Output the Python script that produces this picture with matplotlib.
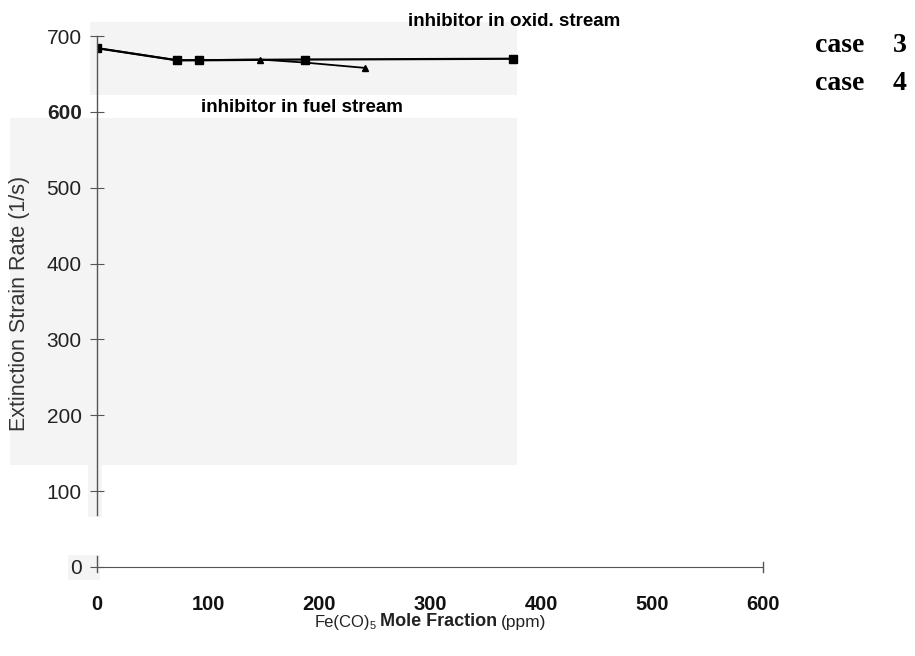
import matplotlib
matplotlib.use("Agg")
import matplotlib.pyplot as plt
from matplotlib.patches import Rectangle

# data
oxid_x = [0, 72, 92, 187, 375]
oxid_y = [684, 668, 668, 669, 670]
fuel_x = [0, 72, 147, 187, 241]
fuel_y = [684, 668, 669, 665, 658]
fuel_marked = [0, 2, 4]
x_ticks = [0, 100, 200, 300, 400, 500, 600]
y_ticks = [0, 100, 200, 300, 400, 500, 600, 700]

W, H = 915, 656
fig = plt.figure(figsize=(W / 100, H / 100), dpi=100)

# background layer with light grey scan patches
bg = fig.add_axes([0, 0, 1, 1], zorder=-5)
bg.set_xlim(0, W)
bg.set_ylim(H, 0)
bg.axis("off")
for (x0, y0, w, h) in [(10, 118, 507, 347), (90, 22, 427, 73), (88, 465, 14, 52),
                       (68, 555, 32, 25)]:
    bg.add_patch(Rectangle((x0, y0), w, h, color="#f4f4f4", lw=0))

ax = fig.add_axes([97 / W, 1 - 567 / H, (763 - 97) / W, (567 - 36) / H], zorder=2)
ax.patch.set_alpha(0)
ax.plot(fuel_x, fuel_y, color="black", lw=1.3, marker="^", ms=5, markevery=fuel_marked)
ax.plot(oxid_x, oxid_y, color="black", lw=1.6, marker="s", ms=6)

ax.set_xlim(0, 600)
ax.set_ylim(0, 700)
for s in ["top", "right", "left"]:
    ax.spines[s].set_visible(False)
ax.spines["bottom"].set_color("#555555")
# broken y axis line as in the scan
ax.plot([0, 0], [68, 700], color="#555555", lw=1.0, clip_on=False)
ax.plot([0, 0], [-6, 15], color="#555555", lw=1.0, clip_on=False)
ax.plot([600, 600], [-6, 6], color="#555555", lw=1.0, clip_on=False)

ax.set_xticks(x_ticks)
ax.set_yticks(y_ticks)
ax.tick_params(axis="y", direction="inout", length=10, width=0.8, colors="#555555",
               labelcolor="#222222", labelsize=15, pad=6)
ax.tick_params(axis="x", direction="inout", length=0, labelcolor="#111111",
               labelsize=14.5, pad=20)
ax.set_xticklabels([str(v) for v in x_ticks], fontweight="bold", family="Liberation Sans")
ylabels = ax.set_yticklabels([str(v) for v in y_ticks], family="Liberation Sans")
ylabels[6].set_fontweight("bold")
ax.set_ylabel("Extinction Strain Rate (1/s)", fontsize=15.5, family="Liberation Sans",
              color="#333333")
ax.yaxis.set_label_coords(-(97 - 30) / (763 - 97), (567 - 303) / (567 - 36))

# x axis title: mixed weights as in the original
ty = 1 - 622 / H
fig.text(315 / W, ty, "Fe(CO)", ha="left", va="center",
         fontsize=12, family="Liberation Sans", color="#222222")
fig.text(370 / W, 1 - 626 / H, "5", ha="left", va="center",
         fontsize=8, family="Liberation Sans", color="#222222")
fig.text(380 / W, ty, "Mole Fraction", ha="left", va="center",
         fontsize=13, fontweight="bold", family="Liberation Sans", color="#222222")
fig.text(501 / W, ty, "(ppm)", ha="left", va="center",
         fontsize=12.5, family="Liberation Sans", color="#222222")

fig.text(514 / W, 1 - 22 / H, "inhibitor in oxid. stream", ha="center", va="center",
         fontsize=13.5, fontweight="bold", family="Liberation Sans")
fig.text(302 / W, 1 - 107 / H, "inhibitor in fuel stream", ha="center", va="center",
         fontsize=13.5, fontweight="bold", family="Liberation Sans")
for lab, num, yy in [("case", "3", 45), ("case", "4", 83)]:
    fig.text(815 / W, 1 - yy / H, lab, ha="left", va="center",
             fontsize=20, fontweight="bold", family="Liberation Serif")
    fig.text(893 / W, 1 - yy / H, num, ha="left", va="center",
             fontsize=20, fontweight="bold", family="Liberation Serif")

fig.savefig("out.png", dpi=100)
